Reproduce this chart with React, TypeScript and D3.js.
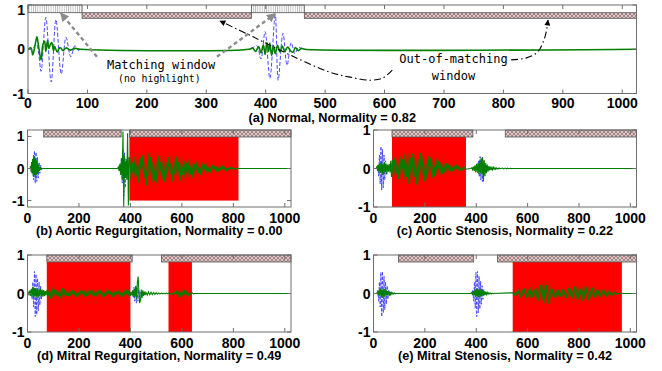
import React, { useEffect, useRef } from 'react';
import * as d3 from 'd3';

const W = 662;
const H = 371;

// axis ticks
const xTicksA = [0, 100, 200, 300, 400, 500, 600, 700, 800, 900, 1000];
const xTicksSmall = [0, 200, 400, 600, 800, 1000];
const yTicks = [-1, 0, 1];

const titles = [
  '(a) Normal, Normality = 0.82',
  '(b) Aortic Regurgitation, Normality = 0.00',
  '(c) Aortic Stenosis, Normality = 0.22',
  '(d) Mitral Regurgitation, Normality = 0.49',
  '(e) Mitral Stenosis, Normality = 0.42',
];

// windows [start, end] in samples
const matchA = [[0, 91], [376, 465]];
const outA = [[91, 376], [465, 1024]];
const outB = [[63, 364], [396, 1024]];
const outC = [[72, 387], [513, 1024]];
const outD = [[75, 407], [521, 1024]];
const outE = [[97, 390], [483, 1024]];

// highlighted (red) windows
const redB = [[396, 820]];
const redC = [[72, 360]];
const redD = [[75, 400], [548, 639]];
const redE = [[542, 967]];

// (a) normal: [sample, amplitude]
const blueA1 = [[0, 0], [8, 0.02], [14, 0.12], [18, -0.1], [22, -0.5], [30, 0.72], [39, -0.74], [47, 0.67], [56, -0.56], [64, 0.27], [72, -0.17], [79, 0.08], [85, -0.03], [92, 0]];
const blueA2 = [[376, 0], [385, 0.08], [392, -0.22], [399, 0.4], [407, -0.66], [416, 0.78], [421, -0.7], [429, 0.36], [436, -0.36], [443, 0.15], [449, -0.1], [455, 0.04], [462, 0]];
const greenA1 = [[0, 0], [5, 0.03], [8, -0.13], [12, 0.1], [15, 0.28], [18, 0.05], [22, -0.24], [25, 0.1], [28, 0.18], [30, -0.05], [33, 0.2], [35, 0.02], [38, 0.12], [40, 0.15], [43, -0.03], [45, 0.06], [49, -0.06], [54, 0.04], [59, -0.03], [64, 0.03], [71, -0.02], [79, 0.02], [88, 0]];
const greenA2 = [[372, 0], [378, 0.03], [383, -0.05], [388, 0.06], [392, -0.08], [396, 0.1], [399, -0.12], [402, 0.15], [405, -0.05], [407, 0.14], [410, -0.14], [413, 0.08], [416, -0.1], [420, 0.09], [424, -0.06], [428, 0.07], [432, -0.05], [437, 0.05], [442, -0.04], [446, -0.07], [450, 0.04], [455, -0.03], [460, 0.02], [466, 0]];

// small panels: sampled amplitudes, {start, step, values}
const bBlueS1 = { start: 12, step: 3, values: [0, 0.1, -0.15, 0.3, -0.35, 0.55, -0.46, 0.5, -0.4, 0.35, -0.3, 0.2, -0.15, 0.1, -0.05, 0.02, 0] };
const bBlueS2 = { start: 356, step: 3, values: [0, 0.1, -0.2, 0.35, -0.45, 0.6, -0.85, 0.5, -0.6, 0.3, -0.3, 0.15, -0.1, 0] };
const bGreenS1 = { start: 10, step: 2, values: [0, 0.08, -0.1, 0.2, -0.15, 0.3, -0.25, 0.42, -0.2, 0.35, -0.28, 0.3, -0.2, 0.25, -0.18, 0.15, -0.12, 0.1, -0.08, 0.05, -0.04, 0.02, 0] };
const bGreenS2 = { start: 350, step: 3, values: [0, 0.05, -0.08, 0.15, -0.2, 0.3, -0.35, 1.15, -1.2, 0.4, -0.3, 0.25, -0.35, 1.1, -1.15, 0.35] };
const bMurmur = { start: 398, step: 5, values: [
  0.3, -0.38, 0.18, -0.3, 0.38, -0.22, 0.28, -0.45, 0.33, -0.18,
  0.42, -0.3, 0.2, -0.52, 0.5, -0.25, 0.36, -0.45, 0.22, -0.38,
  0.27, -0.46, 0.4, -0.24, 0.2, -0.35, 0.34, -0.42, 0.2, -0.3,
  0.36, -0.22, 0.18, -0.4, 0.32, -0.2, 0.38, -0.3, 0.2, -0.38,
  0.3, -0.2, 0.24, -0.33, 0.16, -0.26, 0.28, -0.18, 0.2, -0.3,
  0.14, -0.22, 0.22, -0.15, 0.13, -0.21, 0.19, -0.12, 0.12, -0.17,
  0.14, -0.1, 0.09, -0.14, 0.12, -0.08, 0.07, -0.11, 0.09, -0.06,
  0.06, -0.08, 0.07, -0.05, 0.05, -0.06, 0.04, -0.04, 0.03, -0.03,
  0.02, -0.02, 0.02, -0.01, 0.01, 0] };

const cBlueS1 = { start: 14, step: 3, values: [0, 0.1, -0.2, 0.35, -0.4, 0.57, -0.56, 0.5, -0.5, 0.35, -0.3, 0.2, -0.15, 0.08, -0.04, 0] };
const cBlueS2 = { start: 400, step: 3, values: [0, 0.08, -0.12, 0.2, -0.22, 0.31, -0.3, 0.25, -0.34, 0.2, -0.18, 0.12, -0.1, 0.05, -0.03, 0] };
const cGreenS1 = { start: 10, step: 3, values: [0, 0.04, -0.06, 0.1, -0.12, 0.15, -0.1, 0.18, -0.17, 0.12, -0.14, 0.16, -0.1, 0.13, -0.15, 0.1, -0.08, 0.12, -0.1, 0.2, -0.22] };
const cMurmur = { start: 73, step: 5, values: [
  0.22, -0.25, 0.3, -0.15, 0.26, -0.28, 0.31, -0.18, 0.24, -0.3,
  0.38, -0.22, 0.4, -0.4, 0.28, -0.36, 0.38, -0.22, 0.35, -0.42,
  0.26, -0.33, 0.4, -0.2, 0.32, -0.34, 0.22, -0.26, 0.32, -0.18,
  0.28, -0.25, 0.22, -0.2, 0.25, -0.14, 0.2, -0.18, 0.16, -0.14,
  0.17, -0.1, 0.14, -0.12, 0.1, -0.08, 0.11, -0.06, 0.08, -0.05,
  0.06, -0.05, 0.05, -0.04, 0.04, -0.03, 0.03, -0.02] };
const cGreenS2 = { start: 380, step: 3, values: [
  0, 0.02, -0.03, 0.05, -0.06, 0.08, -0.1, 0.12, -0.08, 0.15,
  -0.14, 0.2, -0.12, 0.28, -0.16, 0.3, -0.34, 0.22, -0.2, 0.14,
  -0.12, 0.1, -0.08, 0.06, -0.05, 0.05, -0.04, 0.03, -0.03, 0.03,
  -0.02, 0.02, -0.02, 0.015, -0.01, 0.01, -0.01, 0.01, -0.005, 0] };
const cTail = { start: 502, step: 5, values: [0.012, -0.01, 0.01, -0.008, 0.008, -0.006, 0.005, -0.004, 0, 0] };

const dBlueS1 = { start: 12, step: 3, values: [0, 0.1, -0.15, 0.3, -0.35, 0.57, -0.6, 0.5, -0.55, 0.4, -0.45, 0.3, -0.3, 0.2, -0.15, 0.08, -0.05, 0] };
const dBlueS2 = { start: 405, step: 3, values: [0, 0.06, -0.1, 0.16, -0.2, 0.18, -0.25, 0.14, -0.2, 0.1, -0.08, 0.04, -0.02, 0] };
const dGreenS1 = { start: 0, step: 3, values: [0, 0.03, -0.05, 0.08, -0.06, 0.12, -0.08, 0.18, -0.1, 0.15, -0.08, 0.14, -0.1, 0.12, -0.09, 0.1, -0.07, 0.12, -0.06, 0.1, -0.08, 0.09, -0.07, 0.06, -0.05] };
const dMurmur = { start: 75, step: 5, values: [
  0.08, -0.07, 0.12, -0.14, 0.16, -0.12, 0.1, -0.08, 0.09, -0.07,
  0.11, -0.13, 0.15, -0.12, 0.1, -0.06, 0.08, -0.07, 0.06, -0.08,
  0.09, -0.06, 0.07, -0.08, 0.06, -0.05, 0.08, -0.06, 0.07, -0.09,
  0.1, -0.07, 0.06, -0.05, 0.08, -0.07, 0.09, -0.06, 0.07, -0.05,
  0.06, -0.07, 0.08, -0.06, 0.05, -0.06, 0.07, -0.05, 0.06, -0.04,
  0.05, -0.06, 0.07, -0.05, 0.04, -0.05, 0.06, -0.04, 0.05, -0.06,
  0.07, -0.05, 0.06, -0.08, 0.1, -0.06] };
const dGreenS2 = { start: 403, step: 3, values: [0.04, -0.05, 0.08, -0.1, 0.12, -0.08, 0.2, -0.15, 0.3, 0.44, 0.05, -0.25, -0.18, 0.1, -0.12, 0.08, -0.06, 0.05, -0.04, 0.03] };
const dTail = { start: 465, step: 5, values: [
  -0.04, 0.04, -0.03, 0.035, -0.03, 0.025, -0.025, 0.02, -0.02, 0.015,
  -0.015, 0.015, -0.01, 0.012, -0.01, 0.01, -0.01, 0.012, -0.015, 0.02,
  -0.02, 0.03, -0.04, 0.05, -0.06, 0.08, -0.05, 0.07, -0.08, 0.06,
  -0.06, 0.05, -0.04, 0.03, -0.02, 0.02, -0.01, 0] };

const eBlueS1 = { start: 14, step: 3, values: [0, 0.1, -0.2, 0.3, -0.35, 0.55, -0.6, 0.57, -0.5, 0.45, -0.42, 0.3, -0.28, 0.2, -0.15, 0.1, -0.06, 0.03, -0.02, 0.01, 0] };
const eBlueS2 = { start: 384, step: 3, values: [0, 0.1, -0.2, 0.3, -0.38, 0.55, -0.6, 0.57, -0.5, 0.45, -0.4, 0.32, -0.28, 0.2, -0.15, 0.1, -0.06, 0.03, -0.02, 0.01, 0, 0] };
const eGreenS1 = { start: 12, step: 3, values: [0, 0.03, -0.05, 0.08, -0.06, 0.12, -0.08, 0.13, -0.1, 0.1, -0.08, 0.12, -0.06, 0.08, -0.05, 0.06, -0.04, 0.05, -0.03, 0.03, -0.02, 0.02, -0.01, 0.01, -0.01, 0, 0] };
const eGreenS2 = { start: 380, step: 3, values: [0, 0.03, -0.04, 0.06, -0.05, 0.1, -0.08, 0.12, -0.1, 0.11, -0.09, 0.1, -0.08, 0.12, -0.06, 0.08, -0.05, 0.06, -0.04, 0.05, -0.03, 0.03, -0.02, 0.02, -0.01, 0.01, -0.01, 0.01, 0] };
const eMurmur = { start: 542, step: 6, values: [
  0.02, -0.04, 0.06, -0.05, 0.08, -0.1, 0.12, -0.08, 0.15, -0.12,
  0.1, -0.14, 0.16, -0.1, 0.12, -0.15, 0.18, -0.2, 0.22, -0.18,
  0.3, -0.25, 0.22, -0.28, 0.2, -0.15, 0.12, -0.1, 0.09, -0.12,
  0.1, -0.08, 0.12, -0.1, 0.09, -0.12, 0.14, -0.11, 0.16, -0.13,
  0.18, -0.15, 0.2, -0.17, 0.12, -0.2, 0.22, -0.14, 0.16, -0.18,
  0.14, -0.12, 0.16, -0.1, 0.12, -0.11, 0.09, -0.08, 0.1, -0.07,
  0.08, -0.06, 0.05, -0.07, 0.05, -0.04, 0.03, -0.03, 0.02, -0.01, 0] };

const seq = (s) => s.values.map((v, i) => [s.start + i * s.step, v]);
const trace = (...parts) => [[0, 0], ...parts.flat(), [1024, 0]];

// annotation anchors in panel (a) data coordinates
const grayArrows = [
  [[116, -0.17], [55, 0.82]],
  [[318, -0.17], [416, 0.8]],
];
const dashCurve1 = [[613, -0.47], [597, -0.65], [576, -0.7], [542, -0.63], [508, -0.52], [441, -0.13], [379, 0.28], [323, 0.64]];
const dashCurve2 = [[813, -0.24], [838, -0.2], [857, -0.07], [870, 0.28], [875, 0.66]];

const panels = [
  { title: titles[0], left: 28, right: 636.5, top: 5, bottom: 93.5, yDomain: [-1, 1], xTicks: xTicksA, smooth: true,
    blue: [blueA1, blueA2], green: [[0, 0], ...greenA1, ...greenA2, [1024, 0]], match: matchA, out: outA, red: [] },
  { title: titles[1], left: 27.5, right: 291, top: 130, bottom: 207, yDomain: [-1.2, 1.2], xTicks: xTicksSmall,
    blue: [seq(bBlueS1), seq(bBlueS2)], green: trace(seq(bGreenS1), seq(bGreenS2), seq(bMurmur)), match: [], out: outB, red: redB },
  { title: titles[2], left: 373.5, right: 636.5, top: 130, bottom: 207, yDomain: [-1, 1], xTicks: xTicksSmall,
    blue: [seq(cBlueS1), seq(cBlueS2)], green: trace(seq(cGreenS1), seq(cMurmur), seq(cGreenS2), seq(cTail)), match: [], out: outC, red: redC },
  { title: titles[3], left: 27.5, right: 291, top: 255, bottom: 332, yDomain: [-1, 1], xTicks: xTicksSmall,
    blue: [seq(dBlueS1), seq(dBlueS2)], green: trace(seq(dGreenS1), seq(dMurmur), seq(dGreenS2), seq(dTail)), match: [], out: outD, red: redD },
  { title: titles[4], left: 373.5, right: 636.5, top: 255, bottom: 332, yDomain: [-1, 1], xTicks: xTicksSmall,
    blue: [seq(eBlueS1), seq(eBlueS2)], green: trace(seq(eGreenS1), seq(eGreenS2), seq(eMurmur)), match: [], out: outE, red: redE },
];

const FONT = '"Liberation Sans", Arial, sans-serif';
const MONO = '"DejaVu Sans Mono", monospace';

export default function App() {
  const ref = useRef(null);

  useEffect(() => {
    const svg = d3.select(ref.current);
    svg.selectAll('*').remove();

    const defs = svg.append('defs');
    const brown = defs.append('pattern').attr('id', 'brown').attr('patternUnits', 'userSpaceOnUse')
      .attr('width', 4).attr('height', 4);
    brown.append('rect').attr('width', 4).attr('height', 4).attr('fill', '#dcc6c6');
    brown.append('path').attr('d', 'M0,0L4,4M4,0L0,4').attr('stroke', '#8a6868').attr('stroke-width', 0.7);
    const vert = defs.append('pattern').attr('id', 'vert').attr('patternUnits', 'userSpaceOnUse')
      .attr('width', 2.2).attr('height', 4);
    vert.append('rect').attr('width', 2.2).attr('height', 4).attr('fill', '#fff');
    vert.append('line').attr('x1', 0.5).attr('x2', 0.5).attr('y1', 0).attr('y2', 4).attr('stroke', '#8a8a8a').attr('stroke-width', 0.6);

    defs.append('marker').attr('id', 'grayHead').attr('viewBox', '0 0 10 10').attr('refX', 9).attr('refY', 5)
      .attr('markerWidth', 11).attr('markerHeight', 9).attr('markerUnits', 'userSpaceOnUse').attr('orient', 'auto')
      .append('path').attr('d', 'M0,0L10,5L0,10Z').attr('fill', '#8c8c8c');
    defs.append('marker').attr('id', 'blackHead').attr('viewBox', '0 0 10 10').attr('refX', 9).attr('refY', 5)
      .attr('markerWidth', 8).attr('markerHeight', 6).attr('markerUnits', 'userSpaceOnUse').attr('orient', 'auto')
      .append('path').attr('d', 'M0,0L10,5L0,10Z').attr('fill', '#000');

    panels.forEach((p, i) => {
      const x = d3.scaleLinear().domain([0, 1024]).range([p.left, p.right]);
      const y = d3.scaleLinear().domain(p.yDomain).range([p.bottom, p.top]);
      const g = svg.append('g');

      defs.append('clipPath').attr('id', `clip${i}`).append('rect')
        .attr('x', p.left).attr('y', p.top).attr('width', p.right - p.left).attr('height', p.bottom - p.top);

      g.append('rect').attr('x', p.left).attr('y', p.top).attr('width', p.right - p.left)
        .attr('height', p.bottom - p.top).attr('fill', '#fff');

      const barH = i === 0 ? 7.7 : 7;
      const outTop = i === 0 ? p.top + 7.7 : p.top;
      const outH = i === 0 ? 5.6 : barH;

      // highlighted windows
      g.selectAll('.red').data(p.red).enter().append('rect')
        .attr('x', d => x(d[0])).attr('width', d => x(d[1]) - x(d[0]))
        .attr('y', outTop + outH).attr('height', y(-1) - (outTop + outH))
        .attr('fill', '#ff0000');

      const plot = g.append('g').attr('clip-path', `url(#clip${i})`);
      const line = d3.line().x(d => x(d[0])).y(d => y(d[1]));
      if (p.smooth) line.curve(d3.curveCatmullRom);

      p.blue.forEach(b => {
        plot.append('path').attr('d', line(b)).attr('fill', 'none')
          .attr('stroke', '#4a4aff').attr('stroke-width', 1).attr('stroke-dasharray', i === 0 ? '4,2' : '3,1.5');
      });
      plot.append('path').attr('d', line(p.green)).attr('fill', 'none')
        .attr('stroke', '#007f00').attr('stroke-width', i === 0 ? 1.6 : 1.1);

      // window bars
      g.selectAll('.match').data(p.match).enter().append('rect')
        .attr('x', d => x(d[0])).attr('width', d => x(d[1]) - x(d[0]))
        .attr('y', p.top).attr('height', barH)
        .attr('fill', 'url(#vert)').attr('stroke', '#555').attr('stroke-width', 0.8);
      g.selectAll('.out').data(p.out).enter().append('rect')
        .attr('x', d => x(d[0])).attr('width', d => x(d[1]) - x(d[0]))
        .attr('y', outTop).attr('height', outH)
        .attr('fill', 'url(#brown)').attr('stroke', '#555').attr('stroke-width', 0.8);

      // frame and ticks
      g.append('rect').attr('x', p.left).attr('y', p.top).attr('width', p.right - p.left)
        .attr('height', p.bottom - p.top).attr('fill', 'none').attr('stroke', '#6e6e6e').attr('stroke-width', 1);
      const tk = 4;
      p.xTicks.forEach(t => {
        g.append('line').attr('x1', x(t)).attr('x2', x(t)).attr('y1', p.bottom).attr('y2', p.bottom - tk).attr('stroke', '#6e6e6e');
        g.append('line').attr('x1', x(t)).attr('x2', x(t)).attr('y1', p.top).attr('y2', p.top + tk).attr('stroke', '#6e6e6e');
        g.append('text').attr('x', x(t)).attr('y', p.bottom + (i === 0 ? 14.5 : 15.5)).attr('text-anchor', 'middle')
          .attr('font-family', FONT).attr('font-weight', 'bold').attr('font-size', 14).text(t);
      });
      yTicks.forEach(t => {
        g.append('line').attr('x1', p.left).attr('x2', p.left + tk).attr('y1', y(t)).attr('y2', y(t)).attr('stroke', '#6e6e6e');
        g.append('line').attr('x1', p.right).attr('x2', p.right - tk).attr('y1', y(t)).attr('y2', y(t)).attr('stroke', '#6e6e6e');
        g.append('text').attr('x', p.left - 3).attr('y', Math.max(y(t), 10) + 5).attr('text-anchor', 'end')
          .attr('font-family', FONT).attr('font-weight', 'bold').attr('font-size', 14).text(t);
      });

      g.append('text').attr('x', (p.left + p.right) / 2).attr('y', i === 0 ? 122 : p.bottom + 28)
        .attr('text-anchor', 'middle').attr('font-family', FONT).attr('font-weight', 'bold')
        .attr('font-size', 12.7).text(p.title);

      if (i === 0) {
        // annotations
        grayArrows.forEach(a => {
          g.append('line').attr('x1', x(a[0][0])).attr('y1', y(a[0][1])).attr('x2', x(a[1][0])).attr('y2', y(a[1][1]))
            .attr('stroke', '#8c8c8c').attr('stroke-width', 2.4).attr('stroke-dasharray', '4,3')
            .attr('marker-end', 'url(#grayHead)');
        });
        const curve = d3.line().x(d => x(d[0])).y(d => y(d[1])).curve(d3.curveCatmullRom);
        [dashCurve1, dashCurve2].forEach(c => {
          g.append('path').attr('d', curve(c)).attr('fill', 'none').attr('stroke', '#000')
            .attr('stroke-width', 1.1).attr('stroke-dasharray', '7,3,1.5,3').attr('marker-end', 'url(#blackHead)');
        });
        g.append('text').attr('x', x(224)).attr('y', y(-0.45)).attr('text-anchor', 'middle')
          .attr('font-family', MONO).attr('font-size', 12).text('Matching window');
        g.append('text').attr('x', x(221)).attr('y', y(-0.74)).attr('text-anchor', 'middle')
          .attr('font-family', MONO).attr('font-size', 9.8).text('(no highlight)');
        g.append('text').attr('x', x(716)).attr('y', y(-0.31)).attr('text-anchor', 'middle')
          .attr('font-family', MONO).attr('font-size', 12).text('Out-of-matching');
        g.append('text').attr('x', x(716)).attr('y', y(-0.7)).attr('text-anchor', 'middle')
          .attr('font-family', MONO).attr('font-size', 12).text('window');
      }
    });
  }, []);

  return (
    <svg ref={ref} width={W} height={H} style={{ position: 'absolute', left: 0, top: 0, background: '#fff' }} />
  );
}
